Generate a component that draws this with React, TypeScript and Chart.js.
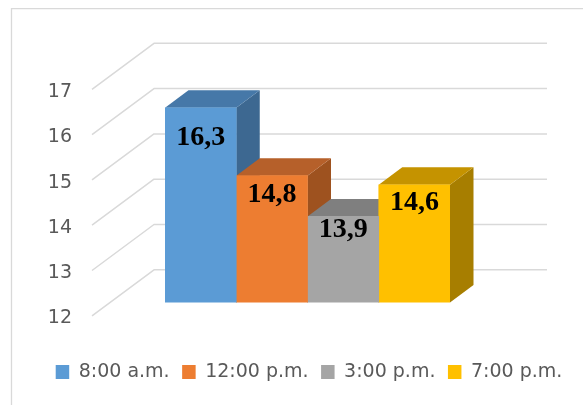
import React, { useEffect, useRef } from "react";
import { Chart, registerables } from "chart.js";

Chart.register(...registerables);

// ---- data ----
const categories = [""];
const seriesNames = ["8:00 a.m.", "12:00 p.m.", "3:00 p.m.", "7:00 p.m."];
const seriesValues = [16.3, 14.8, 13.9, 14.6];
const yMin = 12;
const yMax = 17;
const yStep = 1;

// ---- styles ----
const frontColors = ["#5B9BD5", "#ED7D31", "#A5A5A5", "#FFC000"];
const topColors = ["#4678A8", "#B6602A", "#7F7F7F", "#C59300"];
const sideColors = ["#3D6891", "#9E521F", "#6E6E6E", "#A77E00"];
const GRID = "#D9D9D9";
const TEXT = "#595959";
const DX = 23.5;
const DY = 17.5;

const bars3d = {
  id: "bars3d",
  beforeDraw(chart: any) {
    const ctx = chart.ctx;
    ctx.save();
    ctx.strokeStyle = GRID;
    ctx.lineWidth = 1.3;
    ctx.beginPath();
    ctx.moveTo(11.5, chart.height);
    ctx.lineTo(11.5, 8.7);
    ctx.lineTo(chart.width, 8.7);
    ctx.stroke();
    ctx.restore();
  },
  beforeDatasetsDraw(chart: any) {
    const { ctx, chartArea, scales } = chart;
    const ys = scales.y;
    ctx.save();
    ctx.strokeStyle = GRID;
    ctx.lineWidth = 1.5;
    ctx.lineJoin = "round";
    ys.ticks.forEach((t: any) => {
      const p = ys.getPixelForValue(t.value);
      ctx.beginPath();
      ctx.moveTo(chartArea.left - 73, p + 13.3);
      ctx.lineTo(chartArea.left - 11, p - 32.7);
      ctx.lineTo(chartArea.right + 97, p - 32.7);
      ctx.stroke();
    });
    const floor = ys.getPixelForValue(yMin);
    chart.data.datasets.forEach((_ds: any, i: number) => {
      const meta = chart.getDatasetMeta(i);
      meta.data.forEach((bar: any) => {
        const { x, y, width } = bar.getProps(["x", "y", "width"], true);
        const base = floor;
        const l = x - width / 2;
        const r = x + width / 2;
        ctx.fillStyle = sideColors[i];
        ctx.beginPath();
        ctx.moveTo(r, y);
        ctx.lineTo(r + DX, y - DY);
        ctx.lineTo(r + DX, base - DY);
        ctx.lineTo(r, base);
        ctx.closePath();
        ctx.fill();
        ctx.fillStyle = topColors[i];
        ctx.beginPath();
        ctx.moveTo(l, y);
        ctx.lineTo(l + DX, y - DY);
        ctx.lineTo(r + DX, y - DY);
        ctx.lineTo(r, y);
        ctx.closePath();
        ctx.fill();
      });
    });
    ctx.restore();
  },
  afterDatasetsDraw(chart: any) {
    const ctx = chart.ctx;
    const floor = chart.scales.y.getPixelForValue(yMin);
    ctx.save();
    ctx.font = 'bold 28px "Liberation Serif"';
    ctx.fillStyle = "#000000";
    ctx.textAlign = "center";
    ctx.textBaseline = "middle";
    chart.data.datasets.forEach((ds: any, i: number) => {
      const meta = chart.getDatasetMeta(i);
      meta.data.forEach((bar: any, j: number) => {
        const { x, y } = bar.getProps(["x", "y"], true);
        const v = ds.data[j] as number;
        const label = v.toFixed(1).replace(".", ",");
        ctx.fillText(label, x, y + 0.15 * (floor - y) + 0.5);
      });
    });
    ctx.restore();
  },
};

export default function App() {
  const ref = useRef<HTMLCanvasElement>(null);
  useEffect(() => {
    const canvas = ref.current;
    if (!canvas) return;
    const chart = new Chart(canvas, {
      type: "bar",
      data: {
        labels: categories,
        datasets: seriesNames.map((name, i) => ({
          label: name,
          data: [seriesValues[i]],
          backgroundColor: frontColors[i],
          borderWidth: 0,
          categoryPercentage: 1,
          barPercentage: 1,
        })),
      },
      options: {
        animation: false,
        responsive: true,
        maintainAspectRatio: false,
        layout: { padding: { left: 15, right: -20, top: 76, bottom: 13.5 } },
        plugins: {
          legend: {
            position: "bottom",
            labels: {
              boxWidth: 13.5,
              boxHeight: 14,
              padding: 12.5,
              color: TEXT,
              font: { family: "DejaVu Sans", size: 19 },
            },
          },
          tooltip: { enabled: false },
        },
        scales: {
          x: {
            display: true,
            grid: { display: false, drawTicks: false },
            border: { display: false },
            ticks: { display: false },
            afterFit: (s: any) => {
              s.height = 47.5;
            },
          },
          y: {
            position: "left",
            weight: 1,
            min: yMin,
            max: yMax,
            grid: { display: false, drawTicks: false },
            border: { display: false },
            ticks: {
              stepSize: yStep,
              padding: 0,
              labelOffset: 16,
              color: TEXT,
              font: { family: "DejaVu Sans", size: 19 },
            },
            afterFit: (s: any) => {
              s.width = 57;
            },
          },
          yGap: {
            position: "left",
            weight: 0,
            display: true,
            grid: { display: false, drawTicks: false },
            border: { display: false },
            ticks: { display: false },
            afterFit: (s: any) => {
              s.width = 93;
            },
          },
          y2: {
            position: "right",
            display: true,
            grid: { display: false, drawTicks: false },
            border: { display: false },
            ticks: { display: false },
            afterFit: (s: any) => {
              s.width = 153;
            },
          },
        },
      } as any,
      plugins: [bars3d],
    });
    return () => chart.destroy();
  }, []);
  return (
    <div style={{ position: "fixed", left: 0, top: 0, width: 583, height: 405, background: "#ffffff" }}>
      <canvas ref={ref} />
    </div>
  );
}
